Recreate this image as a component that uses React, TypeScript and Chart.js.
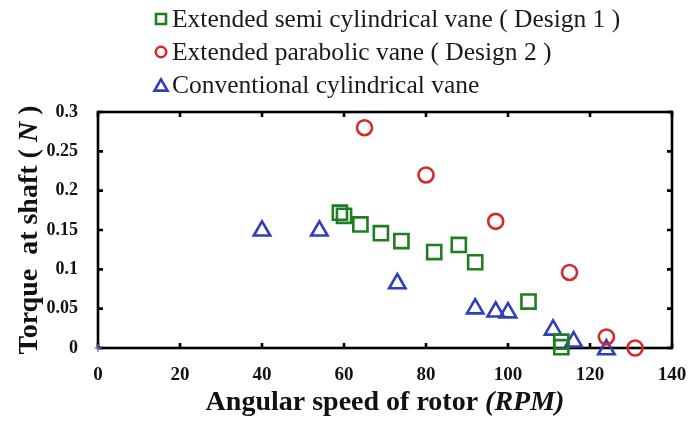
import React, { useEffect, useRef } from "react";
import { Chart, registerables } from "chart.js";

Chart.register(...registerables);

// Rotor speed (RPM) and shaft torque (N) for each vane design
const design1Rpm = [59, 60, 64, 69, 74, 82, 88, 92, 105, 113, 113];
const design1Torque = [0.172, 0.168, 0.157, 0.146, 0.136, 0.122, 0.131, 0.109, 0.059, 0.008, 0.001];

const design2Rpm = [65, 80, 97, 115, 124, 131];
const design2Torque = [0.28, 0.22, 0.161, 0.096, 0.014, 0.0];

const conventionalRpm = [40, 54, 73, 92, 97, 100, 111, 116, 124];
const conventionalTorque = [0.149, 0.149, 0.082, 0.05, 0.046, 0.045, 0.023, 0.008, -0.002];

const originRpm = [0];
const originTorque = [0];

const seriesNames = [
  "Extended semi cylindrical vane ( Design 1 )",
  "Extended parabolic vane ( Design 2 )",
  "Conventional cylindrical vane",
];

const xTickValues = [0, 20, 40, 60, 80, 100, 120, 140];
const yTickLabels = ["0", "0.05", "0.1", "0.15", "0.2", "0.25", "0.3"];

const GREEN = "#1f7d22";
const RED = "#d42a2a";
const BLUE = "#2f3fb8";
const SERIF = "'Liberation Serif', 'Times New Roman', serif";

const toPoints = (xs: number[], ys: number[]) => xs.map((x, i) => ({ x, y: ys[i] }));

function drawMarker(ctx: CanvasRenderingContext2D, style: string, x: number, y: number, r: number) {
  ctx.beginPath();
  if (style === "rect") {
    ctx.rect(x - r, y - r, 2 * r, 2 * r);
  } else if (style === "circle") {
    ctx.arc(x, y, r, 0, Math.PI * 2);
  } else {
    const h = r * 1.8;
    ctx.moveTo(x, y - h / 2);
    ctx.lineTo(x + r * 1.05, y + h / 2);
    ctx.lineTo(x - r * 1.05, y + h / 2);
    ctx.closePath();
  }
  ctx.stroke();
}

const framePlugin = {
  id: "frameAndTicks",
  beforeDatasetsDraw(chart: any) {
    const { ctx, chartArea } = chart;
    const { left, right, top, bottom } = chartArea;
    const xs = chart.scales.x;
    const ys = chart.scales.y;
    ctx.save();
    ctx.strokeStyle = "#000";
    ctx.lineWidth = 2.6;
    ctx.strokeRect(left, top, right - left, bottom - top);
    const tl = 5;
    ctx.beginPath();
    xTickValues.forEach((v) => {
      const px = xs.getPixelForValue(v);
      ctx.moveTo(px, bottom);
      ctx.lineTo(px, bottom - tl);
      ctx.moveTo(px, top);
      ctx.lineTo(px, top + tl);
    });
    yTickLabels.forEach((_, i) => {
      const py = ys.getPixelForValue(i * 0.05);
      ctx.moveTo(left, py);
      ctx.lineTo(left + tl, py);
      ctx.moveTo(right, py);
      ctx.lineTo(right - tl, py);
    });
    ctx.stroke();
    ctx.restore();
  },
  afterDraw(chart: any) {
    const { ctx, chartArea } = chart;
    ctx.save();
    ctx.fillStyle = "#111";
    ctx.textBaseline = "alphabetic";

    // x-axis title with italic unit
    const xa = "Angular speed of rotor ";
    const xb = "(RPM)";
    ctx.font = `bold 28px ${SERIF}`;
    const wa = ctx.measureText(xa).width;
    ctx.font = `italic bold 28px ${SERIF}`;
    const wb = ctx.measureText(xb).width;
    const cx = (chartArea.left + chartArea.right) / 2;
    const sx = cx - (wa + wb) / 2;
    ctx.font = `bold 28px ${SERIF}`;
    ctx.textAlign = "left";
    ctx.fillText(xa, sx, 410);
    ctx.font = `italic bold 28px ${SERIF}`;
    ctx.fillText(xb, sx + wa, 410);

    // y-axis title, rotated
    const parts = [
      { t: "Torque  at shaft ( ", it: false },
      { t: "N", it: true },
      { t: " )", it: false },
    ];
    let total = 0;
    const widths = parts.map((p) => {
      ctx.font = `${p.it ? "italic " : ""}bold 28px ${SERIF}`;
      const w = ctx.measureText(p.t).width;
      total += w;
      return w;
    });
    ctx.translate(37, (chartArea.top + chartArea.bottom) / 2);
    ctx.rotate(-Math.PI / 2);
    let px = -total / 2;
    parts.forEach((p, i) => {
      ctx.font = `${p.it ? "italic " : ""}bold 28px ${SERIF}`;
      ctx.fillText(p.t, px, 0);
      px += widths[i];
    });
    ctx.setTransform(1, 0, 0, 1, 0, 0);
    ctx.restore();

    // legend block
    ctx.save();
    const styles = ["rect", "circle", "triangle"];
    const colors = [GREEN, RED, BLUE];
    const rows = [19, 52, 85];
    ctx.lineWidth = 2.6;
    seriesNames.forEach((name, i) => {
      ctx.strokeStyle = colors[i];
      drawMarker(ctx, styles[i], 161, rows[i], styles[i] === "circle" ? 5.2 : styles[i] === "rect" ? 5 : 6.2);
      ctx.fillStyle = "#1a1a1a";
      ctx.font = `25.5px ${SERIF}`;
      ctx.textAlign = "left";
      ctx.textBaseline = "middle";
      ctx.fillText(name, 172, rows[i] + 1);
    });
    ctx.restore();
  },
};

export default function App() {
  const canvasRef = useRef<HTMLCanvasElement>(null);

  useEffect(() => {
    const canvas = canvasRef.current;
    if (!canvas) return;
    const chart = new Chart(canvas, {
      type: "scatter",
      data: {
        datasets: [
          {
            label: seriesNames[0],
            data: toPoints(design1Rpm, design1Torque),
            pointStyle: "rect",
            pointRadius: 10,
            borderColor: GREEN,
            backgroundColor: "rgba(0,0,0,0)",
            pointBorderWidth: 2.6,
            clip: false,
          },
          {
            label: seriesNames[1],
            data: toPoints(design2Rpm, design2Torque),
            pointStyle: "circle",
            pointRadius: 7.5,
            borderColor: RED,
            backgroundColor: "rgba(0,0,0,0)",
            pointBorderWidth: 2.6,
            clip: false,
          },
          {
            label: seriesNames[2],
            data: toPoints(conventionalRpm, conventionalTorque),
            pointStyle: "triangle",
            pointRadius: 9.5,
            borderColor: BLUE,
            backgroundColor: "rgba(0,0,0,0)",
            pointBorderWidth: 2.6,
            clip: false,
          },
          {
            label: "origin",
            data: toPoints(originRpm, originTorque),
            pointStyle: "cross",
            pointRadius: 4,
            borderColor: "#8a6cc0",
            backgroundColor: "rgba(0,0,0,0)",
            pointBorderWidth: 1.2,
            clip: false,
          },
        ],
      },
      options: {
        animation: false,
        responsive: true,
        maintainAspectRatio: false,
        layout: { padding: { top: 112, right: 17, left: 0, bottom: 0 } },
        plugins: {
          legend: { display: false },
          tooltip: { enabled: false },
        },
        scales: {
          x: {
            type: "linear",
            min: 0,
            max: 140,
            afterFit: (scale: any) => {
              scale.height = 74;
              scale.paddingRight = 0;
              scale.paddingLeft = 0;
            },
            afterBuildTicks: (scale: any) => {
              scale.ticks = xTickValues.map((v) => ({ value: v }));
            },
            grid: { display: false },
            border: { display: false },
            ticks: {
              padding: 8,
              color: "#111",
              font: { family: SERIF, size: 19, weight: "bold" },
              callback: (v: any) => String(v),
            },
          },
          y: {
            type: "linear",
            min: 0,
            max: 0.3,
            afterFit: (scale: any) => {
              scale.width = 98;
              scale.paddingTop = 0;
              scale.paddingBottom = 0;
            },
            afterBuildTicks: (scale: any) => {
              scale.ticks = yTickLabels.map((_, i) => ({ value: i * 0.05 }));
            },
            grid: { display: false },
            border: { display: false },
            ticks: {
              padding: 12,
              color: "#111",
              font: { family: SERIF, size: 18, weight: "bold" },
              callback: (_v: any, i: number) => yTickLabels[i],
            },
          },
        },
      },
      plugins: [framePlugin],
    } as any);
    return () => chart.destroy();
  }, []);

  return (
    <div style={{ position: "fixed", left: 0, top: 0, width: 689, height: 422, background: "#fff" }}>
      <canvas ref={canvasRef} />
    </div>
  );
}
